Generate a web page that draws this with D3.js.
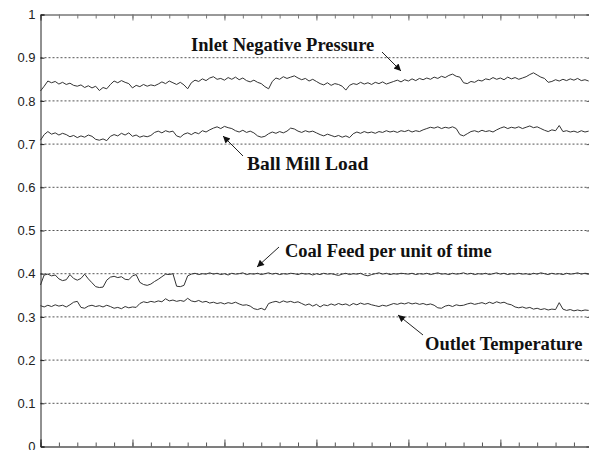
<!DOCTYPE html>
<html>
<head>
<meta charset="utf-8">
<script src="https://cdn.jsdelivr.net/npm/d3@7"></script>
<style>
  html, body { margin: 0; padding: 0; background: #fff; }
  svg { display: block; }
</style>
</head>
<body>
<svg id="chart" width="589" height="450"></svg>
<script>
// Mill process signals (normalised 0..1), one sample every 20 time units
const sampleStep = 20;

const inletNegativePressure = [
  0.823, 0.834, 0.846, 0.842, 0.845, 0.839, 0.843, 0.838, 0.841, 0.836,
  0.834, 0.837, 0.831, 0.835, 0.830, 0.834, 0.824, 0.831, 0.828, 0.838,
  0.846, 0.842, 0.847, 0.843, 0.840, 0.830, 0.836, 0.833, 0.838, 0.834,
  0.837, 0.835, 0.839, 0.844, 0.840, 0.846, 0.842, 0.838, 0.843, 0.837,
  0.828, 0.842, 0.848, 0.845, 0.851, 0.847, 0.853, 0.856, 0.850, 0.852,
  0.848, 0.854, 0.850, 0.855, 0.849, 0.853, 0.847, 0.844, 0.848, 0.843,
  0.840, 0.833, 0.828, 0.845, 0.853, 0.850, 0.856, 0.852, 0.855, 0.858,
  0.853, 0.849, 0.852, 0.846, 0.850, 0.845, 0.840, 0.837, 0.842, 0.836,
  0.840, 0.838, 0.834, 0.825, 0.836, 0.840, 0.838, 0.843, 0.839, 0.842,
  0.838, 0.843, 0.840, 0.844, 0.839, 0.842, 0.845, 0.848, 0.844, 0.849,
  0.846, 0.851, 0.847, 0.852, 0.849, 0.853, 0.850, 0.855, 0.852, 0.857,
  0.854, 0.859, 0.862, 0.857, 0.855, 0.842, 0.840, 0.845, 0.843, 0.848,
  0.846, 0.851, 0.849, 0.854, 0.850, 0.853, 0.849, 0.855, 0.851, 0.854,
  0.850, 0.853, 0.856, 0.861, 0.865, 0.860, 0.855, 0.852, 0.843, 0.845,
  0.849, 0.846, 0.850, 0.847, 0.851, 0.848, 0.852, 0.847, 0.849, 0.846
];

const ballMillLoad = [
  0.709, 0.722, 0.729, 0.723, 0.726, 0.721, 0.725, 0.722, 0.717, 0.720,
  0.715, 0.719, 0.716, 0.721, 0.718, 0.711, 0.709, 0.712, 0.708, 0.718,
  0.722, 0.719, 0.725, 0.721, 0.726, 0.718, 0.721, 0.716, 0.719, 0.717,
  0.720, 0.727, 0.730, 0.726, 0.731, 0.728, 0.730, 0.719, 0.716, 0.723,
  0.726, 0.722, 0.727, 0.724, 0.731, 0.728, 0.733, 0.737, 0.740, 0.736,
  0.741, 0.738, 0.736, 0.731, 0.728, 0.732, 0.727, 0.730, 0.726, 0.719,
  0.716, 0.718, 0.724, 0.728, 0.725, 0.729, 0.726, 0.730, 0.737, 0.735,
  0.730, 0.727, 0.731, 0.728, 0.730, 0.726, 0.722, 0.719, 0.723, 0.720,
  0.717, 0.720, 0.716, 0.719, 0.715, 0.724, 0.728, 0.725, 0.729, 0.726,
  0.728, 0.725, 0.729, 0.727, 0.731, 0.728, 0.730, 0.727, 0.731, 0.729,
  0.732, 0.728, 0.731, 0.729, 0.733, 0.736, 0.739, 0.737, 0.740, 0.736,
  0.739, 0.737, 0.740, 0.736, 0.722, 0.719, 0.724, 0.729, 0.731, 0.728,
  0.732, 0.729, 0.731, 0.728, 0.733, 0.737, 0.740, 0.736, 0.739, 0.737,
  0.740, 0.736, 0.739, 0.742, 0.738, 0.740, 0.736, 0.732, 0.729, 0.733,
  0.731, 0.743, 0.729, 0.731, 0.728, 0.730, 0.727, 0.731, 0.728, 0.730
];

const coalFeedPerUnitTime = [
  0.374, 0.397, 0.399, 0.395, 0.397, 0.388, 0.384, 0.386, 0.398, 0.389,
  0.385, 0.389, 0.399, 0.388, 0.379, 0.370, 0.368, 0.369, 0.385, 0.392,
  0.394, 0.391, 0.393, 0.387, 0.386, 0.395, 0.398, 0.380, 0.375, 0.373,
  0.376, 0.382, 0.387, 0.393, 0.399, 0.398, 0.400, 0.371, 0.370, 0.373,
  0.395, 0.399, 0.401, 0.398, 0.400, 0.399, 0.402, 0.399, 0.401, 0.398,
  0.400, 0.397, 0.401, 0.399, 0.400, 0.402, 0.398, 0.400, 0.399, 0.401,
  0.398, 0.400, 0.402, 0.399, 0.401, 0.398, 0.400, 0.399, 0.401, 0.400,
  0.398, 0.401, 0.399, 0.400, 0.397, 0.400, 0.398, 0.401, 0.399, 0.400,
  0.398, 0.396, 0.399, 0.401, 0.398, 0.400, 0.399, 0.401, 0.397, 0.395,
  0.398, 0.400, 0.402, 0.399, 0.401, 0.398, 0.400, 0.399, 0.401, 0.400,
  0.399, 0.401, 0.398, 0.400, 0.399, 0.401, 0.398, 0.400, 0.402, 0.399,
  0.400, 0.398, 0.401, 0.399, 0.400, 0.402, 0.399, 0.401, 0.398, 0.400,
  0.399, 0.401, 0.398, 0.400, 0.402, 0.399, 0.401, 0.398, 0.400, 0.399,
  0.401, 0.399, 0.400, 0.398, 0.401, 0.399, 0.402, 0.400, 0.398, 0.401,
  0.399, 0.400, 0.398, 0.401, 0.399, 0.400, 0.402, 0.399, 0.401, 0.400
];

const outletTemperature = [
  0.326, 0.323, 0.327, 0.324, 0.328, 0.325, 0.327, 0.323, 0.328, 0.334,
  0.336, 0.322, 0.320, 0.325, 0.327, 0.324, 0.326, 0.323, 0.327, 0.324,
  0.320, 0.322, 0.319, 0.324, 0.321, 0.323, 0.322, 0.331, 0.335, 0.333,
  0.336, 0.334, 0.337, 0.335, 0.342, 0.337, 0.339, 0.336, 0.338, 0.336,
  0.343, 0.337, 0.335, 0.338, 0.334, 0.336, 0.332, 0.334, 0.331, 0.333,
  0.330, 0.333, 0.331, 0.334, 0.330, 0.327, 0.328, 0.325, 0.319, 0.317,
  0.320, 0.316, 0.331, 0.334, 0.336, 0.333, 0.337, 0.334, 0.336, 0.333,
  0.335, 0.331, 0.327, 0.330, 0.325, 0.329, 0.323, 0.328, 0.326, 0.330,
  0.327, 0.331, 0.328, 0.330, 0.326, 0.331, 0.328, 0.332, 0.329, 0.331,
  0.328, 0.326, 0.324, 0.327, 0.325, 0.328, 0.331, 0.329, 0.332, 0.330,
  0.333, 0.330, 0.332, 0.329, 0.331, 0.328, 0.330, 0.327, 0.321, 0.320,
  0.325, 0.327, 0.324, 0.328, 0.326, 0.327, 0.330, 0.332, 0.329, 0.331,
  0.333, 0.330, 0.334, 0.331, 0.335, 0.332, 0.334, 0.330, 0.328, 0.323,
  0.321, 0.323, 0.320, 0.322, 0.318, 0.320, 0.317, 0.319, 0.316, 0.318,
  0.317, 0.333, 0.318, 0.315, 0.317, 0.314, 0.316, 0.314, 0.316, 0.315
];

const yTickValues = [0, 0.1, 0.2, 0.3, 0.4, 0.5, 0.6, 0.7, 0.8, 0.9, 1];
const yTickLabels = ["0", "0.1", "0.2", "0.3", "0.4", "0.5", "0.6", "0.7", "0.8", "0.9", "1"];
const gridValues = [0.1, 0.2, 0.3, 0.4, 0.5, 0.6, 0.7, 0.8, 0.9];
const xMinorTicks = d3.range(0, 3000, 100);
const xMajorTicks = d3.range(0, 3000, 500);

// Callouts: label text, position and size, arrow tail (ax1, ay1) and tip (ax2, ay2) in pixels
const annotations = [
  { text: "Inlet Negative Pressure", tx: 191, ty: 51, size: 18.5, ax1: 382, ay1: 52, ax2: 401, ay2: 71 },
  { text: "Ball Mill Load", tx: 247, ty: 170, size: 19.5, ax1: 243, ay1: 156, ax2: 223, ay2: 136 },
  { text: "Coal Feed per unit of time", tx: 285, ty: 257, size: 18.5, ax1: 279, ay1: 247, ax2: 257, ay2: 267 },
  { text: "Outlet Temperature", tx: 425, ty: 350, size: 18.5, ax1: 423, ay1: 335, ax2: 398, ay2: 315 }
];

const series = [inletNegativePressure, ballMillLoad, coalFeedPerUnitTime, outletTemperature];

const svg = d3.select("#chart");
const plotLeft = 40.5, plotRight = 590.5, plotTop = 14.5, plotBottom = 446.5;

const x = d3.scaleLinear().domain([0, 2990]).range([plotLeft, plotRight]);
const y = d3.scaleLinear().domain([0, 1]).range([plotBottom, plotTop]);

// dashed horizontal grid
svg.append("g")
  .selectAll("line")
  .data(gridValues)
  .join("line")
  .attr("x1", plotLeft).attr("x2", plotRight)
  .attr("y1", d => y(d)).attr("y2", d => y(d))
  .attr("stroke", "#555")
  .attr("stroke-width", 1)
  .attr("stroke-dasharray", "2,2");

// frame axes
function styleAxis(g, color) {
  g.selectAll("path").attr("stroke", color);
  g.selectAll("line").attr("stroke", color);
}

const topMinor = svg.append("g").attr("transform", `translate(0,${plotTop})`)
  .call(d3.axisTop(x).tickValues(xMinorTicks).tickSize(-4).tickFormat(""));
styleAxis(topMinor, "#777");
const topMajor = svg.append("g").attr("transform", `translate(0,${plotTop})`)
  .call(d3.axisTop(x).tickValues(xMajorTicks).tickSize(-6).tickFormat(""));
styleAxis(topMajor, "#777");

const botMinor = svg.append("g").attr("transform", `translate(0,${plotBottom})`)
  .call(d3.axisBottom(x).tickValues(xMinorTicks).tickSize(-4).tickFormat(""));
styleAxis(botMinor, "#555");
const botMajor = svg.append("g").attr("transform", `translate(0,${plotBottom})`)
  .call(d3.axisBottom(x).tickValues(xMajorTicks).tickSize(-7).tickFormat(""));
styleAxis(botMajor, "#555");

const yAxis = svg.append("g").attr("transform", `translate(${plotLeft},0)`)
  .call(d3.axisLeft(y).tickValues(yTickValues).tickSize(-4).tickPadding(5)
    .tickFormat((d, i) => yTickLabels[i]));
styleAxis(yAxis, "#222");
yAxis.selectAll("text")
  .attr("font-family", "Liberation Sans, Arial, sans-serif")
  .attr("font-size", 13)
  .attr("fill", "#222");

const yAxisRight = svg.append("g").attr("transform", `translate(${plotRight},0)`)
  .call(d3.axisRight(y).tickValues(yTickValues).tickSize(-4).tickFormat(""));
styleAxis(yAxisRight, "#555");

// signal traces
const line = d3.line()
  .x((d, i) => x(i * sampleStep))
  .y(d => y(d));

svg.append("g")
  .selectAll("path")
  .data(series)
  .join("path")
  .attr("d", line)
  .attr("fill", "none")
  .attr("stroke", "#333")
  .attr("stroke-width", 1)
  .attr("stroke-linejoin", "round");

// arrow marker
svg.append("defs").append("marker")
  .attr("id", "arrowHead")
  .attr("viewBox", "0 0 10 10")
  .attr("refX", 10).attr("refY", 5)
  .attr("markerWidth", 9).attr("markerHeight", 7)
  .attr("markerUnits", "userSpaceOnUse")
  .attr("orient", "auto")
  .append("path")
  .attr("d", "M0,0 L10,5 L0,10 Z")
  .attr("fill", "#111");

const ann = svg.append("g");
ann.selectAll("line")
  .data(annotations)
  .join("line")
  .attr("x1", d => d.ax1).attr("y1", d => d.ay1)
  .attr("x2", d => d.ax2).attr("y2", d => d.ay2)
  .attr("stroke", "#222")
  .attr("stroke-width", 1)
  .attr("marker-end", "url(#arrowHead)");

ann.selectAll("text")
  .data(annotations)
  .join("text")
  .attr("x", d => d.tx).attr("y", d => d.ty)
  .attr("font-family", "Liberation Serif, 'Times New Roman', serif")
  .attr("font-weight", "bold")
  .attr("font-size", d => d.size)
  .attr("fill", "#111")
  .text(d => d.text);
</script>
</body>
</html>
